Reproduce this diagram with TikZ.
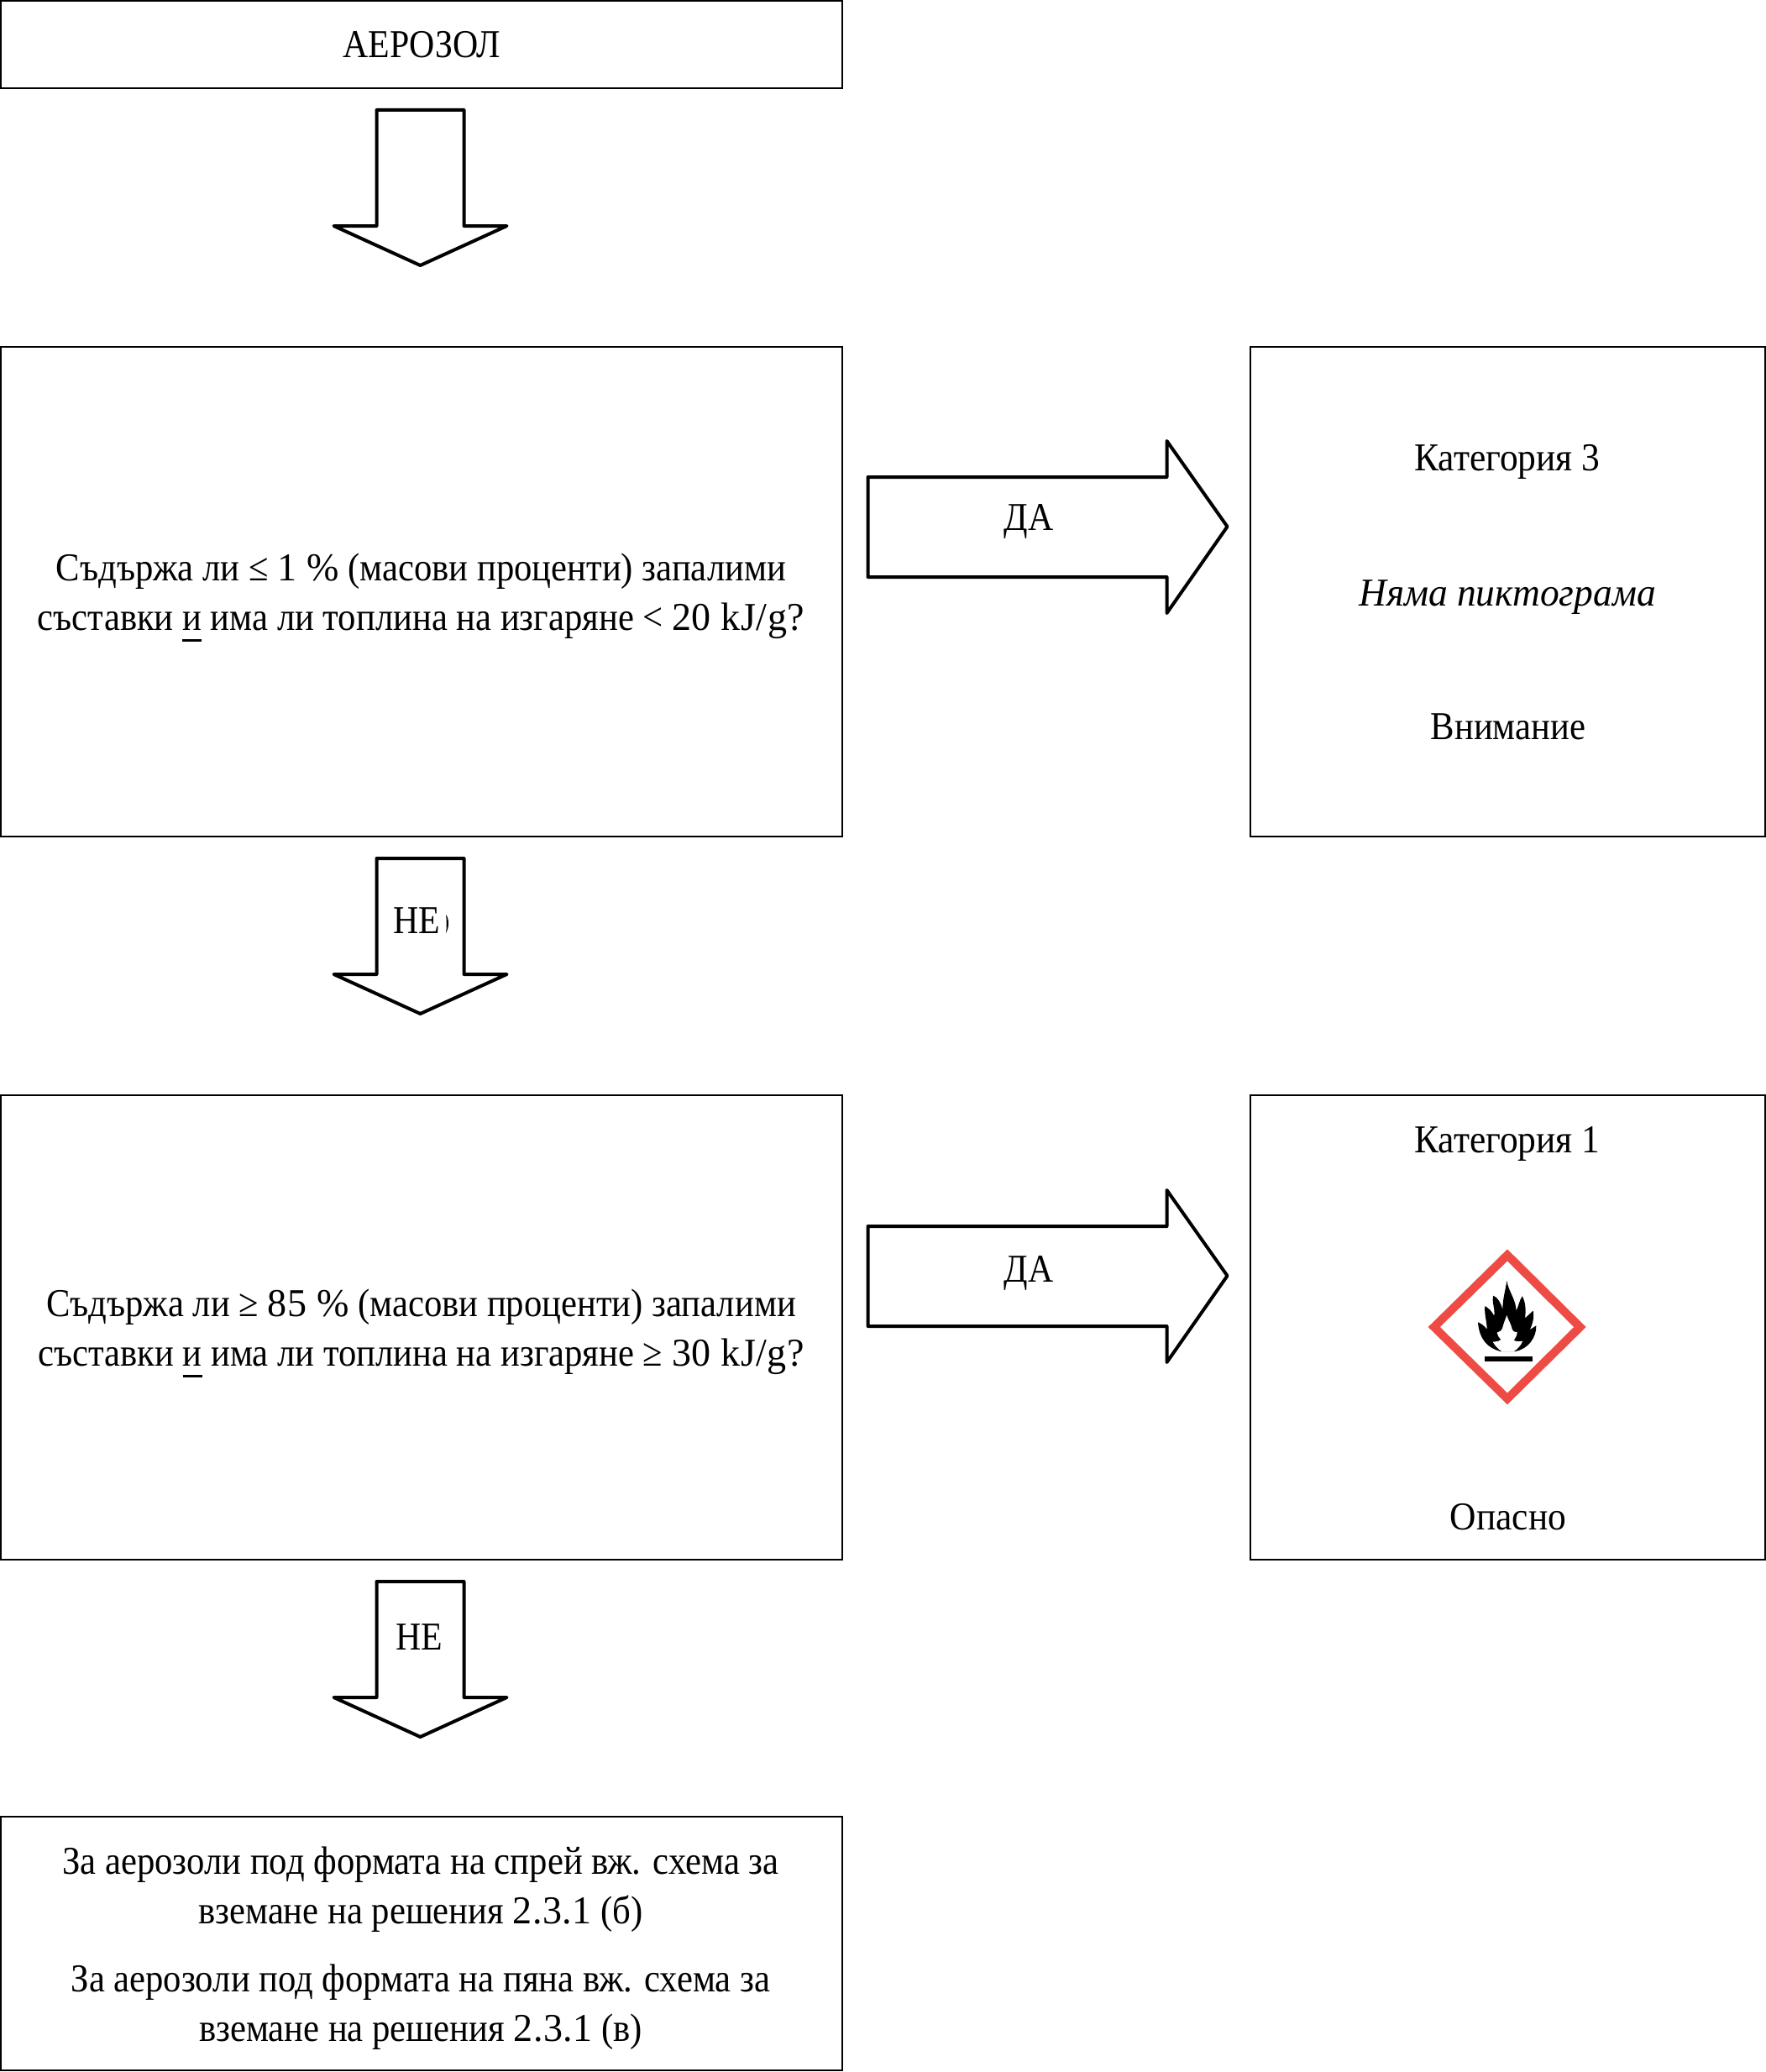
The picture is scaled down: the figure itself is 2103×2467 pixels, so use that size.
\documentclass[tikz,border=0pt]{standalone}
\usepackage{fontspec}
\setmainfont{Liberation Serif}[FakeStretch=0.908]
\newfontfamily\capsface{Liberation Serif}[FakeStretch=0.89]
\newfontfamily\catface{Liberation Serif}[FakeStretch=0.925]
\newfontfamily\pictface{Liberation Serif}[FakeStretch=0.967]
\newfontfamily\wideface{Liberation Serif}[FakeStretch=0.98,LetterSpace=1]
\newcommand{\wn}[1]{{\wideface #1}}
% underline set well below the baseline, as a heavy rule
\newcommand{\lowbar}[1]{\setbox0=\hbox{#1}\rlap{\rule[-14pt]{\wd0}{3pt}}\box0\relax}
\definecolor{ghsred}{HTML}{EE4B45}
\tikzset{
  x=1pt,y=-1pt,
  flowbox/.style={draw=black,line width=2pt,fill=white,inner sep=0pt,outer sep=0pt,align=center,
    font=\fontsize{47}{59}\selectfont},
  label/.style={inner sep=0pt,font=\fontsize{47}{59}\selectfont},
  blockarrow/.style={draw=black,line width=4pt,line join=round,fill=white},
  pics/downblock/.style={code={
    \path[blockarrow] (-52,0) -- (52,0) -- (52,138) -- (103,138) -- (0,185) -- (-103,138) -- (-52,138) -- cycle;
  }},
  pics/rightblock/.style={code={
    \path[blockarrow] (0,-59) -- (356,-59) -- (356,-102) -- (428,0) -- (356,103) -- (356,60) -- (0,60) -- cycle;
  }}
}
\begin{document}
\begin{tikzpicture}
\useasboundingbox (0,0) rectangle (2103,2467);

% Question and result boxes
\node[flowbox,minimum width=1002pt,minimum height=104pt,anchor=north west] (start) at (1,1) {};
\node[flowbox,minimum width=1002pt,minimum height=583pt,anchor=north west] (q1) at (1,413) {};
\node[flowbox,minimum width=1002pt,minimum height=553pt,anchor=north west] (q2) at (1,1304) {};
\node[flowbox,minimum width=1002pt,minimum height=302pt,anchor=north west] (next) at (1,2163) {};
\node[flowbox,minimum width=613pt,minimum height=583pt,anchor=north west] (cat3) at (1489,413) {};
\node[flowbox,minimum width=613pt,minimum height=553pt,anchor=north west] (cat1) at (1489,1304) {};

\node[label,font=\fontsize{47}{59}\selectfont\capsface] (starttext) at (502,53) {АЕРОЗОЛ};
\node[label,align=center] (q1text) at (501.5,711.5)
  {Съдържа ли ≤ \wn{1 \%} (масови проценти) запалими\\съставки \lowbar{и} има ли топлина на изгаряне < \wn{20 kJ/g?}};
\node[label,align=center] (q2text) at (501.5,1587.5)
  {Съдържа ли ≥ \wn{85 \%} (масови проценти) запалими\\съставки \lowbar{и} има ли топлина на изгаряне ≥ \wn{30 kJ/g?}};

% Text of the last question box
\node[label,align=center] (nexta) at (501,2250) {За аерозоли под формата на спрей вж. схема за\\вземане на решения \wn{2.3.1} (б)};
\node[label,align=center] (nextb) at (501,2390) {За аерозоли под формата на пяна вж. схема за\\вземане на решения \wn{2.3.1} (в)};

% Category 3 text
\node[label,font=\fontsize{47}{59}\selectfont\catface] (c3a) at (1795,550) {Категория 3};
\node[label,font=\fontsize{47}{59}\selectfont\pictface\itshape] (c3b) at (1795,711) {Няма пиктограма};
\node[label] (c3c) at (1796,865) {Внимание};

% Category 1 text
\node[label,font=\fontsize{47}{59}\selectfont\catface] (c1a) at (1795,1362) {Категория 1};
\node[label,font=\fontsize{47}{59}\selectfont\catface] (c1c) at (1796,1806) {Опасно};

% Block arrows
\coordinate (d1) at (500.5,131);
\coordinate (d2) at (500.5,1022);
\coordinate (d3) at (500.5,1883);
\coordinate (r1) at (1033.5,627);
\coordinate (r2) at (1033.5,1519);
\pic at (d1) {downblock};
\pic at (d2) {downblock};
\pic at (d3) {downblock};
\pic at (r1) {rightblock};
\pic at (r2) {rightblock};

\node[label,font=\fontsize{47}{59}\selectfont\capsface] (no1) at (496,1096) {НЕ};
\node[label,font=\fontsize{47}{59}\selectfont\capsface] (no2) at (499,1949) {НЕ};
\node[label,font=\fontsize{47}{59}\selectfont\capsface] (yes1) at (1225,621) {ДА};
\node[label,font=\fontsize{47}{59}\selectfont\capsface] (yes2) at (1225,1516) {ДА};

% Stray sliver beside the first НЕ
\fill[black] (531,1089) .. controls (535,1094) and (535,1104) .. (531,1111) .. controls (532,1104) and (532,1095) .. (531,1089) -- cycle;

% GHS flame pictogram
\begin{scope}[shift={(1650,1460)},x=0.3333pt,y=-0.3333pt]
  \fill[ghsred] (435,82) -- (716,360) -- (435,637) -- (152,360) -- cycle;
  \fill[white] (435,125) -- (672,360) -- (435,595) -- (195,360) -- cycle;
  \fill[black] (410,447) .. controls (365,435) and (335,405) .. (330,343)
    .. controls (342,348) and (352,355) .. (362,368)
    .. controls (362,340) and (352,315) .. (355,285)
    .. controls (368,292) and (380,305) .. (388,320)
    .. controls (392,295) and (378,270) .. (385,248)
    .. controls (402,255) and (412,275) .. (418,298)
    .. controls (418,260) and (428,230) .. (433,195)
    .. controls (440,235) and (465,260) .. (467,302)
    .. controls (475,285) and (478,265) .. (488,250)
    .. controls (500,270) and (502,300) .. (498,328)
    .. controls (510,318) and (518,310) .. (527,302)
    .. controls (532,325) and (525,350) .. (515,370)
    .. controls (523,365) and (530,360) .. (538,355)
    .. controls (540,395) and (510,440) .. (462,447) -- cycle;
  \fill[white] (415,447) .. controls (400,438) and (390,425) .. (383,413)
    .. controls (392,412) and (405,412) .. (412,405)
    .. controls (405,398) and (400,390) .. (398,380)
    .. controls (408,378) and (415,372) .. (418,362)
    .. controls (422,345) and (428,332) .. (433,318)
    .. controls (438,335) and (446,345) .. (450,360)
    .. controls (452,372) and (458,380) .. (470,378)
    .. controls (470,392) and (462,400) .. (458,408)
    .. controls (468,412) and (480,412) .. (490,410)
    .. controls (482,428) and (470,440) .. (458,447) -- cycle;
  \fill[black] (354,465) rectangle (525,482);
\end{scope}
\end{tikzpicture}
\end{document}
